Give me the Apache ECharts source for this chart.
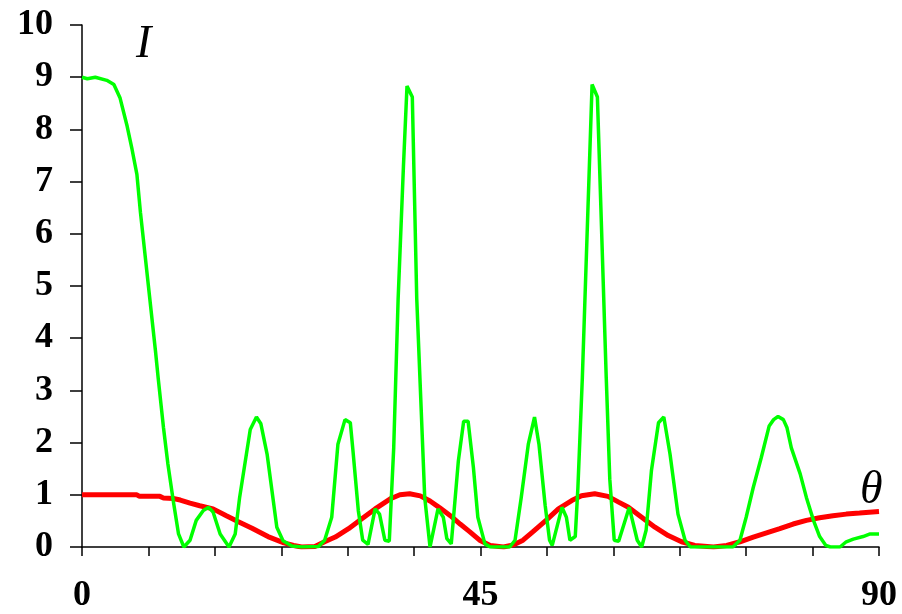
<!DOCTYPE html>
<html>
<head>
<meta charset="utf-8">
<script src="https://cdn.jsdelivr.net/npm/echarts@6/dist/echarts.min.js"></script>
<style>
html,body{margin:0;padding:0;background:#fff;}
#chart{width:902px;height:614px;}
</style>
</head>
<body>
<div id="chart"></div>
<script>
// x tick labels shown on the theta axis
const xTickLabels = [0, 45, 90];
// y tick labels
const yTickLabels = [0,1,2,3,4,5,6,7,8,9,10];

// green curve: angle (deg) and intensity
const greenTheta = [0,0.6,1.5,2.8,3.6,4.3,5.1,5.65,6.2,6.6,7.5,8.3,8.6,9.2,9.7,10.3,10.9,11.5,12.2,12.9,13.7,14.3,14.8,15.6,16.6,17.3,17.8,19.0,19.7,20.2,20.9,22.0,22.7,23.7,24.8,26.7,27.4,28.2,28.9,29.7,30.3,30.6,31.2,31.7,32.3,33.1,33.6,34.2,34.7,35.2,35.7,36.3,36.7,37.3,37.8,38.7,39.3,40.2,40.8,41.2,41.7,42.5,43.1,43.6,44.2,44.7,45.5,46.1,48.3,48.9,49.6,50.4,51.1,51.6,52.3,52.8,53.1,54.2,54.7,55.1,55.7,56.0,56.5,57.6,58.2,59.2,59.6,60.1,60.6,61.8,62.7,63.2,63.7,64.3,65.1,65.7,66.4,67.3,68.1,68.7,73.5,74.3,75.0,75.8,76.7,77.6,78.1,78.6,79.2,79.6,80.1,81.1,81.8,82.6,83.3,84.0,84.5,85.6,86.3,87.1,88.2,89.0,90];
const greenI = [9.0,8.97,9.0,8.94,8.86,8.6,8.06,7.62,7.14,6.41,5.0,3.75,3.24,2.29,1.59,0.89,0.25,0,0.13,0.51,0.7,0.76,0.67,0.25,0,0.25,0.95,2.25,2.49,2.36,1.78,0.38,0.12,0.02,0,0.01,0.13,0.57,1.97,2.44,2.38,1.84,0.7,0.13,0.05,0.73,0.63,0.13,0.11,1.9,4.76,7.3,8.83,8.62,4.76,0.95,0,0.73,0.57,0.16,0.06,1.65,2.41,2.41,1.52,0.57,0.06,0,0,0.13,0.95,1.97,2.49,1.97,0.8,0.13,0.03,0.76,0.57,0.13,0.2,1.14,3.24,8.86,8.62,3.24,1.3,0.13,0.11,0.76,0.13,0,0.32,1.46,2.38,2.49,1.78,0.63,0.13,0,0,0.13,0.57,1.14,1.71,2.32,2.44,2.5,2.44,2.29,1.9,1.4,0.95,0.51,0.2,0.03,0,0,0.1,0.15,0.2,0.25,0.25];

// red curve: angle (deg) and intensity
const redTheta = [0,6.2,6.5,8.8,9.2,10.3,11.1,12.2,13.3,14.8,16.3,17.6,19.2,21.0,22.8,23.9,24.8,26.3,27.4,28.6,30.1,31.6,33.1,34.9,35.9,37.0,38.2,39.3,40.4,41.6,42.7,43.8,44.9,46.1,47.6,48.7,49.8,50.9,52.4,53.8,55.3,56.4,57.9,59.4,60.6,61.7,63.2,64.7,66.2,67.7,69.2,71.3,72.8,74.3,75.8,77.3,78.8,80.3,81.8,83.3,84.8,86.3,87.8,90];
const redI = [1.0,1.0,0.97,0.97,0.94,0.93,0.9,0.84,0.79,0.73,0.6,0.49,0.36,0.2,0.08,0.03,0,0.01,0.1,0.19,0.35,0.54,0.73,0.93,1.0,1.02,0.98,0.88,0.75,0.6,0.44,0.29,0.13,0.03,0,0.04,0.13,0.29,0.51,0.73,0.89,0.98,1.02,0.97,0.86,0.76,0.57,0.38,0.22,0.1,0.03,0,0.03,0.1,0.19,0.27,0.35,0.44,0.51,0.56,0.6,0.63,0.65,0.68];

const greenData = greenTheta.map((t,i)=>[t, greenI[i]]);
const redData = redTheta.map((t,i)=>[t, redI[i]]);

const chart = echarts.init(document.getElementById('chart'), null, {renderer:'canvas'});
const serif = '"Liberation Serif","Times New Roman",serif';
chart.setOption({
  animation:false,
  backgroundColor:'#ffffff',
  grid:{left:82, right:23, top:25, bottom:64, containLabel:false},
  xAxis:{
    type:'value', min:0, max:90, interval:7.5,
    axisLine:{lineStyle:{color:'#000', width:1.5}},
    axisTick:{show:true, length:9, lineStyle:{color:'#000', width:1.5}},
    splitLine:{show:false},
    axisLabel:{
      margin:31, color:'#000', fontFamily:serif, fontWeight:'bold', fontSize:36,
      formatter:(v)=> xTickLabels.indexOf(Math.round(v*100)/100) >= 0 ? String(v) : ''
    }
  },
  yAxis:{
    type:'value', min:0, max:10, interval:1,
    axisLine:{show:true, lineStyle:{color:'#000', width:1.5}},
    axisTick:{show:true, length:12, lineStyle:{color:'#000', width:1.5}},
    splitLine:{show:false},
    axisLabel:{
      margin:29, color:'#000', fontFamily:serif, fontWeight:'bold', fontSize:36,
      formatter:(v)=> yTickLabels.indexOf(v) >= 0 ? String(v) : ''
    }
  },
  graphic:[
    {type:'text', left:136, top:22, style:{text:'I', font:'italic 46px '+serif, fill:'#000'}},
    {type:'text', left:860, top:468, style:{text:'θ', font:'italic 46px '+serif, fill:'#000'}}
  ],
  series:[
    {type:'line', data:redData, showSymbol:false, symbol:'none', lineStyle:{color:'#ff0000', width:5}, z:2},
    {type:'line', data:greenData, showSymbol:false, symbol:'none', lineStyle:{color:'#00ff00', width:3.5}, z:3}
  ]
});
</script>
</body>
</html>
